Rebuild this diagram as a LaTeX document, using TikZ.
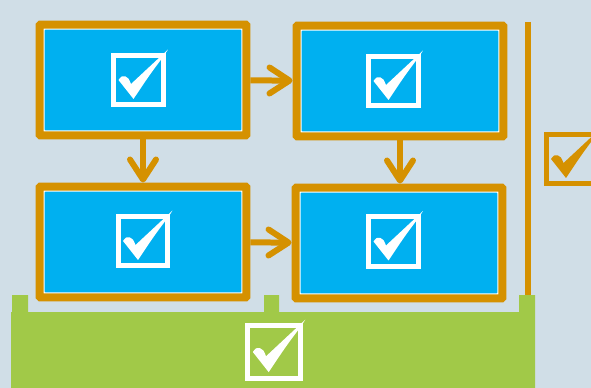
\documentclass[tikz,border=0pt]{standalone}
\usetikzlibrary{arrows.meta}
\definecolor{bggray}{RGB}{208,222,231}
\definecolor{frame}{RGB}{213,145,0}
\definecolor{sky}{RGB}{0,176,240}
\definecolor{leaf}{RGB}{161,201,72}
\tikzset{chkmark/.pic={
  \begin{scope}[x=1cm,y=1cm]
  \draw[line width=0.1cm] (-0.5,-0.5) rectangle (0.5,0.5);
  \fill (-0.4,0) .. controls (-0.34,0.08) .. (-0.26,0.07) .. controls (-0.2,0.04) .. (-0.15,-0.08) -- (0.59,0.61) -- (0.52,0.5) .. controls (0.22,0.1) .. (-0.1,-0.38) .. controls (-0.17,-0.28) .. (-0.25,-0.19) .. controls (-0.31,-0.1) .. (-0.4,0) -- cycle;
  \end{scope}}}
\begin{document}
\begin{tikzpicture}[x=0.02cm, y=-0.02cm,
  bx/.style={draw=frame, line width=0.16cm, rounded corners=0.02cm, fill=white, minimum width=4.14cm, minimum height=2.22cm, inner sep=0pt,
    path picture={\fill[sky] ([shift={(0.1cm,0.1cm)}]path picture bounding box.south west) rectangle ([shift={(-0.1cm,-0.1cm)}]path picture bounding box.north east);}},
  arr/.style={draw=frame, line width=0.12cm, -{Straight Barb[length=0.4cm, width=0.52cm, line width=0.12cm, round]}}]
	\clip (0,0) rectangle (591,388);
	\fill[bggray] (0,0) rectangle (591,388);
	\node[bx] (tl) at (143,80) {};
	\node[bx] (tr) at (400,81) {};
	\node[bx] (bl) at (143,242) {};
	\node[bx] (br) at (399,243) {};
	\pic[color=white] at (138.5,80) {chkmark};
	\pic[color=white] at (393.5,81) {chkmark};
	\pic[color=white] at (143,241) {chkmark};
	\pic[color=white] at (393.5,241.5) {chkmark};
	\draw[arr] (tl) -- (tr);
	\draw[arr] (tl) -- (bl);
	\draw[arr] (tr.south) -- (tr.south |- br.north);
	\draw[arr] (bl) -- (br);
	\draw[frame, line width=0.12cm] (528,22) -- (528,300);
	\pic[color=frame] at (571,159) {chkmark};
	\fill[leaf] (11,312) -- (12,312) -- (12,295) -- (28,295) -- (28,312) -- (264,312) -- (264,295) -- (279,295) -- (279,312) -- (519,312) -- (519,295) -- (535,295) -- (535,388) -- (11,388) -- cycle;
	\pic[color=white, scale=1.06] at (274,352) {chkmark};
\end{tikzpicture}
\end{document}
